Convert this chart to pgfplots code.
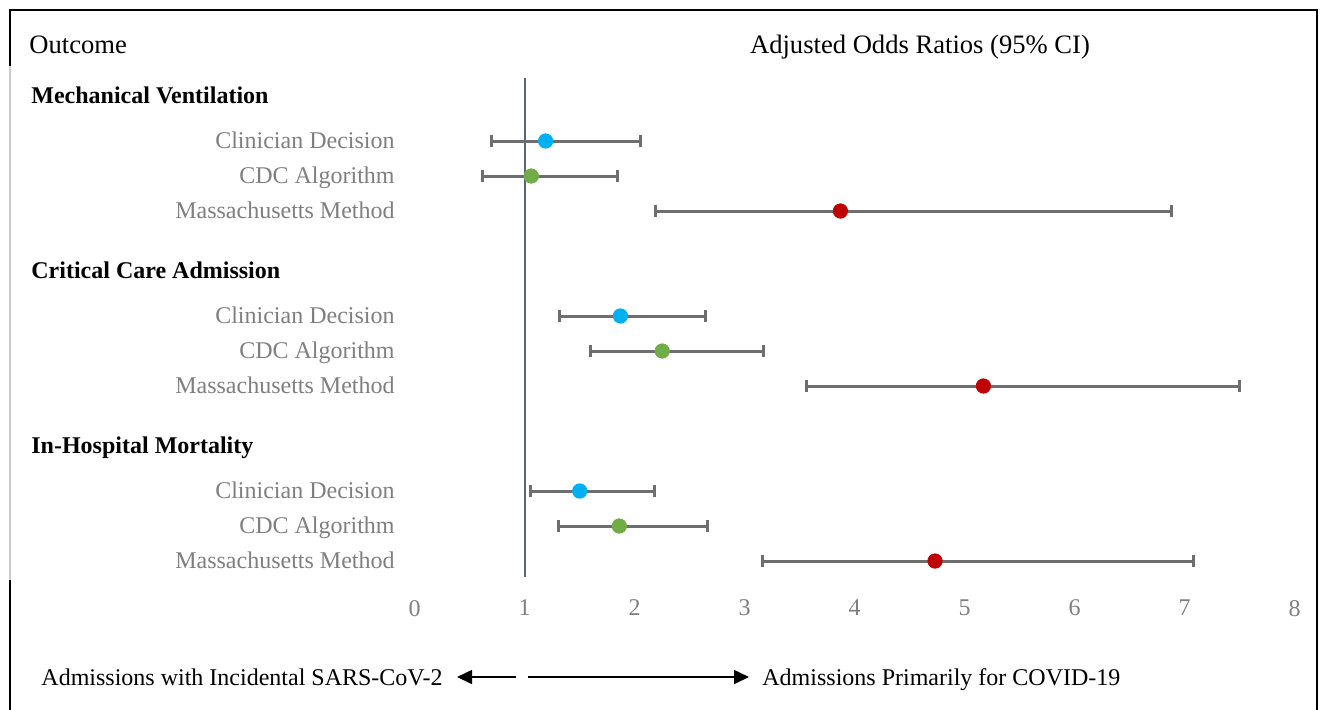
\documentclass[border=0pt]{standalone}
\usepackage{pgfplots}
\pgfplotsset{compat=1.18}
\usepackage{pgfplotstable}
\usepackage{fontspec}
\setmainfont{Liberation Serif}
\usetikzlibrary{arrows.meta}

\definecolor{labgray}{HTML}{7F7F7F}
\definecolor{errgray}{HTML}{6E6E6E}
\definecolor{refline}{HTML}{5B6573}
\definecolor{cblue}{HTML}{00B0F0}
\definecolor{cgreen}{HTML}{70AD47}
\definecolor{cred}{HTML}{C00000}

% x = odds ratio, y = row position (pixels from top), em/ep = CI minus/plus
\pgfplotstableread{
x    y   em   ep
1.19 141 0.49 0.86
1.87 316 0.55 0.77
1.50 491 0.45 0.68
}\clin
\pgfplotstableread{
x    y   em   ep
1.06 176 0.44 0.78
2.25 351 0.65 0.92
1.86 526 0.55 0.80
}\cdc
\pgfplotstableread{
x    y   em   ep
3.87 211 1.68 3.01
5.17 386 1.61 2.33
4.73 561 1.57 2.35
}\mass

\begin{document}
\begin{tikzpicture}[x=0.5pt, y=-0.5pt]
\useasboundingbox (0,0) rectangle (1322,709);
% frame
\draw[black, line width=1.3pt] (10,66) -- (10,10) -- (1317,10) -- (1317,712);
\draw[black, line width=1.3pt] (10,580) -- (10,712);
\draw[black!20, line width=1pt] (10,66) -- (10,580);

\begin{axis}[
  at={(377,580)}, anchor=south west,
  x=55pt, y=0.5pt, y dir=reverse,
  xmin=0, xmax=8, ymin=78, ymax=580,
  axis line style={draw=none},
  xtick={0,1,...,8}, ytick=\empty,
  major tick length=0pt,
  /pgf/number format/assume math mode=true,
  xticklabel style={font=\fontsize{12}{14}\selectfont, text=labgray, yshift=-6.5pt},
  clip=false,
  error bars/x dir=both, error bars/x explicit,
  error bars/error bar style={line width=1.5pt, errgray},
  error bars/error mark options={rotate=90, mark size=2.8pt, line width=1.5pt, errgray},
]
\addplot[refline, line width=1pt] coordinates {(1,78) (1,577)};
\addplot[only marks, mark=*, mark size=3.6pt, color=cblue,
  mark options={draw=cblue, fill=cblue}]
  table[x=x, y=y, x error plus=ep, x error minus=em] {\clin};
\addplot[only marks, mark=*, mark size=3.6pt, color=cgreen,
  mark options={draw=cgreen, fill=cgreen}]
  table[x=x, y=y, x error plus=ep, x error minus=em] {\cdc};
\addplot[only marks, mark=*, mark size=3.6pt, color=cred,
  mark options={draw=cred, fill=cred}]
  table[x=x, y=y, x error plus=ep, x error minus=em] {\mass};
\end{axis}

% headings
\node[anchor=mid west, inner sep=0, font=\fontsize{13.3}{16}\selectfont] at (29,49) {Outcome};
\node[anchor=mid, inner sep=0, font=\fontsize{13.3}{16}\selectfont] at (920,49) {Adjusted Odds Ratios (95\% CI)};

\foreach \g/\yy in {Mechanical Ventilation/99, Critical Care Admission/274, In-Hospital Mortality/449}{
  \node[anchor=mid west, inner sep=0, font=\fontsize{12}{14}\selectfont\bfseries] at (31,\yy) {\g};
}
\foreach \off in {0,175,350}{
  \node[anchor=mid east, inner sep=0, text=labgray, font=\fontsize{12}{14}\selectfont] at (395,144+\off) {Clinician Decision};
  \node[anchor=mid east, inner sep=0, text=labgray, font=\fontsize{12}{14}\selectfont] at (395,179+\off) {CDC Algorithm};
  \node[anchor=mid east, inner sep=0, text=labgray, font=\fontsize{12}{14}\selectfont] at (395,214+\off) {Massachusetts Method};
}

% bottom direction labels
\node[anchor=mid east, inner sep=0, font=\fontsize{12}{14}\selectfont] at (443,681) {Admissions with Incidental SARS-CoV-2};
\node[anchor=mid west, inner sep=0, font=\fontsize{12}{14}\selectfont] at (762,681) {Admissions Primarily for COVID-19};
\draw[line width=0.8pt, -{Triangle[length=7.5pt, width=7pt]}] (516,677) -- (457,677);
\draw[line width=0.8pt, -{Triangle[length=7.5pt, width=7pt]}] (528,677) -- (749,677);
\end{tikzpicture}
\end{document}
